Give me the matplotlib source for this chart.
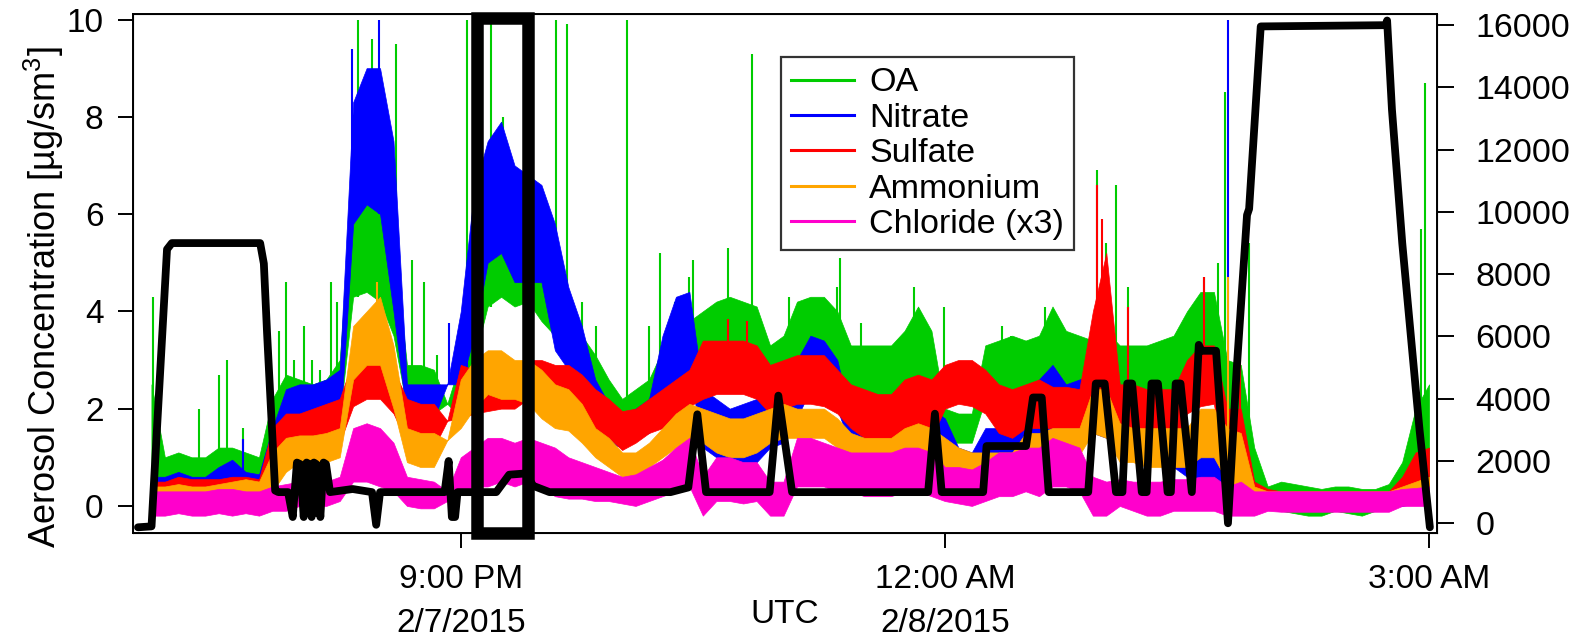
import matplotlib
matplotlib.use("Agg")
import matplotlib.pyplot as plt
import numpy as np
from matplotlib.lines import Line2D
from matplotlib.patches import Rectangle

plt.rcParams['font.family'] = ['Liberation Sans', 'DejaVu Sans']
plt.rcParams['mathtext.default'] = 'regular'

# 5 minute grid, hours since 2/7/2015 00:00 UTC (19:00 -> 03:00)
t = 19 + np.arange(97) * 5 / 60.0
nan = np.nan

# band envelopes (low / high) of each species, ug/sm3
oa_lo = [nan, 0.3, 0.3, 0.4, 0.4, 0.4, 0.5, 0.5, 0.4, 0.3,
         0.6, 1.9, 1.6, 1.6, 1.7, 1.8, 4.3, 4.4, 4.2, 3.5,
         2.0, 2.0, 1.9, 2.1, 1.8, 3.0, 4.1, 4.3, 4.1, 4.2,
         3.8, 3.5, 2.9, 2.6, 2.2, 1.9, 1.5, 1.6, 1.8, 2.2,
         2.4, 2.5, 2.6, 2.9, 3.0, 3.0, 3.0, 2.3, 2.3, 2.9,
         2.9, 2.9, 2.6, 2.3, 2.2, 2.1, 2.1, 2.3, 2.5, 2.3,
         1.3, 1.3, 1.3, 2.2, 2.3, 2.3, 2.2, 2.3, 2.5, 2.4,
         2.4, 2.4, 2.3, 2.1, 2.1, 2.1, 2.2, 2.3, 2.6, 2.8,
         2.8, 1.2, 1.2, 0.3, 0.0, -0.1, -0.15, -0.2, -0.2, -0.1,
         -0.15, -0.2, -0.1, -0.05, 0.1, 0.5, 0.6]
oa_hi = [nan, 2.5, 1.0, 1.1, 1.0, 1.0, 1.2, 1.2, 1.1, 1.0,
         2.2, 2.7, 2.6, 2.5, 2.6, 3.0, 6.8, 7.0, 6.8, 5.5,
         2.9, 2.9, 2.8, 2.1, 3.0, 5.5, 6.5, 7.2, 6.5, 6.6,
         5.8, 4.6, 3.7, 3.5, 3.1, 2.6, 2.2, 2.4, 2.6, 3.2,
         3.6, 3.8, 4.0, 4.2, 4.3, 4.2, 4.1, 3.3, 3.5, 4.2,
         4.3, 4.3, 4.0, 3.3, 3.3, 3.3, 3.3, 3.6, 4.1, 3.6,
         2.0, 1.9, 1.9, 3.3, 3.4, 3.5, 3.4, 3.5, 4.1, 3.6,
         3.5, 3.4, 3.6, 3.3, 3.3, 3.3, 3.4, 3.5, 4.0, 4.4,
         4.4, 3.0, 2.9, 1.2, 0.4, 0.5, 0.45, 0.4, 0.35, 0.4,
         0.4, 0.35, 0.35, 0.45, 0.9, 2.0, 2.5]

no3_lo = [nan, 0.2, 0.2, 0.2, 0.2, 0.2, 0.3, 0.4, 0.3, 0.25,
          0.5, 1.3, 1.2, 1.3, 1.4, 1.5, 5.8, 6.2, 6.0, 4.0,
          1.8, 1.8, 1.8, 2.5, 2.5, 3.5, 5.0, 5.2, 4.6, 4.6,
          4.6, 3.2, 2.8, 2.1, 1.6, 1.3, 1.2, 1.4, 1.5, 1.8,
          2.6, 2.8, 1.2, 1.0, 0.8, 0.9, 0.9, 1.2, 1.3, 1.8,
          2.4, 2.4, 2.0, 1.2, 1.1, 1.05, 1.0, 1.1, 1.2, 1.2,
          1.0, 0.6, 0.55, 0.9, 0.95, 0.95, 1.2, 1.4, 1.6, 1.6,
          1.6, 1.5, 1.4, 1.2, 1.0, 0.9, 0.9, 0.8, 0.6, 0.5,
          0.4, 0.4, 0.4, 0.2, 0.0, 0.0, 0.0, 0.0, 0.0, 0.0,
          0.0, 0.0, 0.0, 0.0, 0.0, 0.05, 0.0]
no3_hi = [nan, 0.6, 0.6, 0.7, 0.6, 0.6, 0.8, 0.95, 0.7, 0.65,
          1.6, 2.4, 2.5, 2.5, 2.6, 2.8, 8.3, 9.0, 9.0, 7.5,
          2.5, 2.5, 2.5, 2.5, 4.0, 6.5, 7.5, 7.9, 7.0, 6.8,
          6.6, 5.8, 4.5, 3.7, 2.6, 2.1, 1.9, 2.0, 2.2, 3.5,
          4.3, 4.4, 2.4, 2.2, 2.0, 2.1, 2.2, 2.3, 2.4, 3.0,
          3.5, 3.4, 3.0, 1.8, 1.7, 1.6, 1.6, 1.7, 1.9, 2.0,
          1.8, 1.2, 1.1, 1.6, 1.6, 1.6, 2.2, 2.6, 2.9, 2.5,
          2.6, 2.7, 2.6, 2.2, 2.05, 2.0, 2.0, 2.0, 1.3, 1.3,
          1.2, 1.1, 1.2, 0.5, 0.3, 0.25, 0.25, 0.25, 0.25, 0.25,
          0.25, 0.25, 0.25, 0.25, 0.25, 0.3, 0.3]

so4_lo = [nan, 0.1, 0.1, 0.1, 0.15, 0.15, 0.15, 0.15, 0.2, 0.2,
          0.5, 1.1, 1.1, 1.1, 1.2, 1.3, 2.05, 2.2, 2.2, 1.9,
          1.3, 1.2, 1.2, 1.75, 1.8, 1.9, 1.95, 2.0, 2.0, 2.2,
          2.3, 2.1, 2.05, 1.9, 1.6, 1.4, 1.15, 1.3, 1.5, 1.6,
          1.9, 2.05, 2.2, 2.3, 2.3, 2.3, 2.2, 1.9, 2.0, 2.1,
          2.1, 2.05, 1.9, 1.6, 1.4, 1.3, 1.3, 1.55, 1.6, 1.4,
          2.0, 2.1, 2.05, 1.9, 1.5, 1.4, 1.6, 1.6, 1.6, 1.6,
          1.6, 2.0, 2.1, 1.3, 1.3, 1.3, 1.3, 1.3, 1.9, 2.05,
          2.1, 0.4, 0.4, 0.2, 0.05, 0.0, 0.0, 0.0, 0.0, 0.0,
          0.0, 0.0, 0.0, 0.0, 0.1, 0.3, 0.3]
so4_hi = [nan, 0.5, 0.5, 0.6, 0.55, 0.55, 0.55, 0.6, 0.6, 0.55,
          1.6, 1.9, 1.9, 2.0, 2.1, 2.2, 3.0, 3.1, 3.1, 2.8,
          2.2, 2.1, 2.1, 1.75, 2.9, 2.8, 2.6, 2.7, 2.8, 3.0,
          3.0, 2.9, 2.9, 2.7, 2.4, 2.2, 1.95, 2.0, 2.2, 2.4,
          2.6, 2.8, 3.4, 3.4, 3.4, 3.4, 3.3, 2.9, 3.0, 3.1,
          3.1, 3.1, 2.8, 2.5, 2.4, 2.3, 2.3, 2.6, 2.7, 2.6,
          2.9, 3.0, 3.0, 2.8, 2.5, 2.4, 2.5, 2.6, 2.45, 2.45,
          2.4, 4.0, 5.2, 2.5, 2.5, 2.4, 2.4, 2.4, 3.0, 3.3,
          3.3, 2.0, 2.0, 0.5, 0.35, 0.3, 0.3, 0.3, 0.3, 0.3,
          0.3, 0.3, 0.3, 0.3, 0.6, 1.1, 1.2]

nh4_lo = [nan, 0.05, 0.05, 0.05, 0.05, 0.05, 0.1, 0.1, 0.15, 0.1,
          0.3, 0.7, 0.9, 0.9, 0.9, 1.0, 2.6, 2.9, 2.9, 2.0,
          0.9, 0.8, 0.8, 1.35, 1.6, 2.0, 2.3, 2.2, 2.2, 2.1,
          1.8, 1.6, 1.55, 1.3, 1.0, 0.8, 0.6, 0.6, 0.8, 1.0,
          1.2, 1.3, 1.3, 1.1, 1.0, 1.0, 1.1, 1.3, 1.4, 1.4,
          1.4, 1.4, 1.2, 0.9, 0.8, 0.8, 0.8, 0.95, 1.0, 0.9,
          0.8, 0.7, 0.6, 0.7, 0.7, 0.7, 0.9, 0.9, 1.05, 1.05,
          1.05, 1.5, 1.4, 0.9, 0.9, 0.8, 0.8, 0.8, 0.8, 1.0,
          1.0, 0.5, 0.4, 0.1, 0.05, 0.0, 0.0, 0.0, 0.0, 0.0,
          0.0, 0.0, 0.0, 0.0, 0.05, 0.1, 0.1]
nh4_hi = [nan, 0.4, 0.4, 0.45, 0.4, 0.4, 0.45, 0.5, 0.55, 0.5,
          1.1, 1.4, 1.45, 1.45, 1.5, 1.6, 3.7, 4.0, 4.3, 3.3,
          1.6, 1.5, 1.5, 1.35, 2.6, 3.0, 3.2, 3.2, 3.0, 3.0,
          2.8, 2.5, 2.4, 2.1, 1.6, 1.4, 1.1, 1.1, 1.3, 1.6,
          1.9, 2.1, 2.0, 1.9, 1.8, 1.8, 1.9, 2.0, 2.1, 2.0,
          2.0, 2.0, 1.8, 1.5, 1.4, 1.4, 1.4, 1.6, 1.7, 1.6,
          1.4, 1.2, 1.1, 1.1, 1.1, 1.1, 1.5, 1.5, 1.6, 1.6,
          1.6, 2.4, 2.4, 1.7, 1.6, 1.6, 1.6, 1.6, 1.6, 2.0,
          2.0, 1.6, 1.5, 0.4, 0.3, 0.3, 0.3, 0.3, 0.3, 0.3,
          0.3, 0.3, 0.3, 0.3, 0.4, 0.5, 0.6]

chl_lo = [nan, -0.2, -0.2, -0.15, -0.2, -0.2, -0.15, -0.2, -0.15, -0.2,
          -0.1, -0.1, 0.0, 0.0, 0.0, 0.1, 0.5, 0.5, 0.4, 0.3,
          0.0, -0.05, -0.05, 0.1, 0.3, 0.4, 0.4, 0.5, 0.4, 0.5,
          0.4, 0.2, 0.15, 0.15, 0.1, 0.1, 0.05, 0.0, 0.1, 0.2,
          0.3, 0.4, -0.2, 0.1, 0.1, 0.05, 0.1, -0.2, -0.2, 0.4,
          0.4, 0.4, 0.3, 0.3, 0.2, 0.2, 0.2, 0.3, 0.3, 0.2,
          0.1, 0.05, 0.0, 0.1, 0.2, 0.2, 0.3, 0.2, 0.4, 0.4,
          0.3, -0.2, -0.2, 0.0, -0.1, -0.2, -0.2, -0.1, -0.1, -0.1,
          -0.1, -0.2, -0.2, -0.2, -0.1, -0.12, -0.12, -0.12, -0.12, -0.12,
          -0.12, -0.12, -0.12, -0.12, 0.0, 0.0, 0.0]
chl_hi = [nan, 0.3, 0.3, 0.3, 0.3, 0.3, 0.35, 0.35, 0.3, 0.3,
          0.4, 0.45, 0.5, 0.5, 0.5, 0.6, 1.6, 1.7, 1.6, 1.3,
          0.6, 0.55, 0.5, 0.3, 1.0, 1.2, 1.4, 1.4, 1.3, 1.4,
          1.3, 1.2, 1.0, 0.9, 0.8, 0.7, 0.6, 0.65, 0.8, 0.95,
          1.2, 1.4, 0.6, 1.0, 1.0, 0.9, 0.9, 0.5, 0.5, 1.4,
          1.4, 1.3, 1.2, 1.1, 1.1, 1.1, 1.1, 1.2, 1.2, 1.1,
          0.8, 0.8, 0.75, 0.9, 1.1, 1.1, 1.2, 1.2, 1.4, 1.3,
          1.2, 0.6, 0.5, 0.55, 0.5, 0.5, 0.5, 0.55, 0.55, 0.6,
          0.6, 0.4, 0.5, 0.3, 0.3, 0.3, 0.3, 0.3, 0.3, 0.3,
          0.3, 0.3, 0.3, 0.3, 0.35, 0.37, 0.4]

# short excursions above the bands (time in h, peak value)
oa_spk_t = [19.095, 19.378, 19.504, 19.553, 19.649, 19.873, 19.916, 19.969, 20.027,
            20.076, 20.129, 20.193, 20.236, 20.364, 20.449, 20.599, 20.695, 20.770,
            20.855, 21.040, 21.186, 21.261, 21.592, 21.660, 21.752, 21.837, 22.033,
            22.167, 22.232, 22.328, 22.413, 22.441, 22.658, 22.807, 23.032, 23.138,
            23.330, 23.351, 23.480, 23.810, 23.992, 24.354, 24.408, 24.621, 24.942,
            24.996, 25.059, 25.134, 25.605, 25.690, 25.733, 25.808, 25.883, 26.952,
            26.973]
oa_spk_v = [4.3, 2.0, 2.7, 3.0, 1.6, 3.6, 4.6, 3.0, 3.7,
            3.0, 2.8, 4.6, 4.2, 10.0, 9.6, 9.5, 5.05, 4.6,
            3.1, 10.0, 10.0, 8.0, 10.0, 9.9, 4.2, 3.7, 10.0,
            3.7, 5.2, 4.2, 4.7, 5.05, 5.3, 9.3, 4.3, 4.26,
            4.5, 5.1, 3.76, 4.5, 4.1, 3.7, 3.5, 4.1, 6.9,
            5.4, 6.6, 4.5, 4.7, 5.0, 8.5, 3.8, 5.4, 5.7,
            8.7]
no3_spk_t = [19.649, 20.326, 20.492, 20.929, 21.036, 24.942, 25.754]
no3_spk_v = [1.38, 9.4, 10.0, 3.76, 4.2, 3.7, 10.0]
so4_spk_t = [22.658, 22.776, 24.942, 24.974, 25.134, 25.605, 25.829]
so4_spk_v = [3.85, 3.8, 6.6, 5.9, 4.1, 4.7, 3.55]
nh4_spk_t = [20.481, 25.754]
nh4_spk_v = [4.6, 4.7]

# black trace on the right axis
blk_t = [19.00, 19.084, 19.18, 19.21, 19.757, 19.78, 19.80, 19.85, 19.87, 19.93,
         19.959, 19.985, 20.005, 20.027, 20.045, 20.06, 20.076, 20.09, 20.105, 20.13,
         20.15, 20.165, 20.19, 20.26, 20.33, 20.45, 20.476, 20.50, 20.90, 20.925,
         20.945, 20.965, 20.98, 21.22, 21.30, 21.40, 21.45, 21.55, 22.30, 22.41,
         22.466, 22.52, 22.914, 22.968, 23.053, 23.896, 23.938, 23.98, 24.237, 24.258,
         24.503, 24.546, 24.60, 24.643, 24.888, 24.935, 24.99, 25.06, 25.10, 25.13,
         25.16, 25.22, 25.25, 25.28, 25.32, 25.38, 25.40, 25.43, 25.46, 25.53,
         25.573, 25.59, 25.68, 25.754, 25.808, 25.872, 25.885, 25.957, 26.73, 26.74,
         26.77, 26.834, 26.941, 27.005]
blk_v = [-130, -100, 8800, 9000, 9000, 8340, 6100, 1050, 1000, 1000,
         200, 1950, 1900, 200, 1950, 1900, 200, 1950, 1900, 200,
         1950, 1900, 1000, 1050, 1100, 1000, -50, 1000, 1000, 2000,
         200, 200, 1000, 1000, 1560, 1600, 1200, 1000, 1000, 1150,
         3500, 1000, 1000, 4100, 1000, 1000, 3520, 1000, 1000, 2480,
         2480, 4040, 4040, 1000, 1000, 4490, 4490, 1000, 1000, 4490,
         4490, 1000, 1000, 4490, 4490, 1000, 1000, 4490, 4490, 1000,
         5730, 5540, 5540, 0, 4950, 9900, 10100, 15960, 16000, 16150,
         13290, 8990, 3000, -130]

names = ['OA', 'Nitrate', 'Sulfate', 'Ammonium', 'Chloride (x3)']
colors = ['#00cc00', '#0000ff', '#ff0000', '#ffa500', '#ff00cc']

fig = plt.figure(figsize=(15.81, 6.36), dpi=100)
ax = fig.add_axes([0.0839, 0.162, 0.8249, 0.8157])

bands = [(oa_lo, oa_hi, oa_spk_t, oa_spk_v),
         (no3_lo, no3_hi, no3_spk_t, no3_spk_v),
         (so4_lo, so4_hi, so4_spk_t, so4_spk_v),
         (nh4_lo, nh4_hi, nh4_spk_t, nh4_spk_v),
         (chl_lo, chl_hi, [], [])]
for k, (lo, hi, st, sv) in enumerate(bands):
    lo = np.array(lo)
    hi = np.array(hi)
    ax.fill_between(t, lo, hi, color=colors[k], lw=0.5, edgecolor=colors[k], zorder=2 + k)
    if st:
        idx = [np.nanargmin(np.abs(t - s)) for s in st]
        base = np.nan_to_num(lo[idx])
        ax.vlines(st, base, sv, color=colors[k], lw=1.5, zorder=2 + k)

ax.set_xlim(18.967, 27.048)
ax.set_ylim(-0.556, 10.11)
ax.set_yticks([0, 2, 4, 6, 8, 10])
ax.set_xticks([21, 24, 27])
ax.set_xticklabels(['9:00 PM\n2/7/2015', '12:00 AM\n2/8/2015', '3:00 AM'])
for lbl in ax.get_xticklabels():
    lbl.set_linespacing(1.55)
ax.tick_params(axis='both', direction='out', length=11, width=1.4, labelsize=24)
ax.tick_params(axis='y', pad=10)
ax.tick_params(axis='x', pad=11)
ax.set_ylabel('Aerosol Concentration [µg/sm$^{3}$]', fontsize=26)
ax.yaxis.set_label_coords(-0.051, 0.454)
ax.set_xlabel('UTC', fontsize=24)
ax.xaxis.set_label_coords(0.5, -0.128)
for sp in ax.spines.values():
    sp.set_linewidth(1.4)

ax2 = ax.twinx()
ax2.plot(blk_t, blk_v, color='black', lw=5.6, solid_joinstyle='round',
         solid_capstyle='round', zorder=5)
ax2.set_ylim(-312, 16353)
ax2.set_yticks(np.arange(0, 16001, 2000))
ax2.tick_params(axis='y', direction='out', length=12, width=1.4, labelsize=24.5, pad=16)

# highlighted interval
ax2.add_patch(Rectangle((21.1035, -0.565), 21.415 - 21.1035, 10.033 + 0.565,
                        transform=ax.transData, fill=False, edgecolor='black',
                        lw=9, joinstyle='miter', clip_on=False, zorder=10))

handles = [Line2D([], [], color=c, lw=2.2) for c in colors]
leg = ax2.legend(handles, names, loc='upper left', bbox_to_anchor=(0.497, 0.917),
                 borderaxespad=0, fontsize=24.5, handlelength=1.85, handletextpad=0.45,
                 labelspacing=0.13, borderpad=0.3, frameon=True, fancybox=False)
leg.get_frame().set_edgecolor('black')
leg.get_frame().set_linewidth(1.6)

fig.savefig('out.png', dpi=100)
